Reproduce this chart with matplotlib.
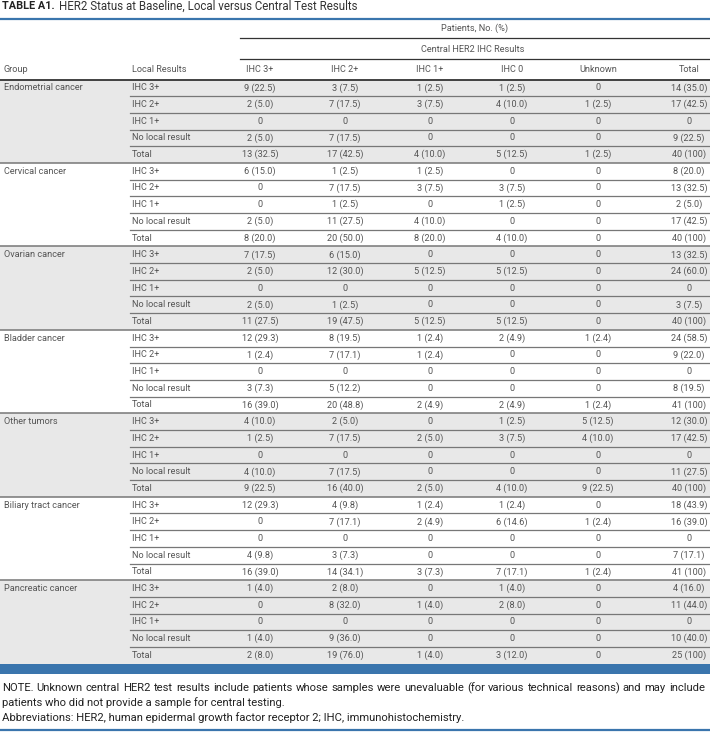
import matplotlib
matplotlib.use("Agg")
import matplotlib.pyplot as plt

plt.rcParams['font.family'] = ['Roboto', 'DejaVu Sans']

groups = ["Endometrial cancer", "Cervical cancer", "Ovarian cancer", "Bladder cancer",
          "Other tumors", "Biliary tract cancer", "Pancreatic cancer"]
local_results = ["IHC 3+", "IHC 2+", "IHC 1+", "No local result", "Total"]
central_cols = ["IHC 3+", "IHC 2+", "IHC 1+", "IHC 0", "Unknown", "Total"]

endometrial = [["9 (22.5)", "3 (7.5)", "1 (2.5)", "1 (2.5)", "0", "14 (35.0)"],
               ["2 (5.0)", "7 (17.5)", "3 (7.5)", "4 (10.0)", "1 (2.5)", "17 (42.5)"],
               ["0", "0", "0", "0", "0", "0"],
               ["2 (5.0)", "7 (17.5)", "0", "0", "0", "9 (22.5)"],
               ["13 (32.5)", "17 (42.5)", "4 (10.0)", "5 (12.5)", "1 (2.5)", "40 (100)"]]
cervical = [["6 (15.0)", "1 (2.5)", "1 (2.5)", "0", "0", "8 (20.0)"],
            ["0", "7 (17.5)", "3 (7.5)", "3 (7.5)", "0", "13 (32.5)"],
            ["0", "1 (2.5)", "0", "1 (2.5)", "0", "2 (5.0)"],
            ["2 (5.0)", "11 (27.5)", "4 (10.0)", "0", "0", "17 (42.5)"],
            ["8 (20.0)", "20 (50.0)", "8 (20.0)", "4 (10.0)", "0", "40 (100)"]]
ovarian = [["7 (17.5)", "6 (15.0)", "0", "0", "0", "13 (32.5)"],
           ["2 (5.0)", "12 (30.0)", "5 (12.5)", "5 (12.5)", "0", "24 (60.0)"],
           ["0", "0", "0", "0", "0", "0"],
           ["2 (5.0)", "1 (2.5)", "0", "0", "0", "3 (7.5)"],
           ["11 (27.5)", "19 (47.5)", "5 (12.5)", "5 (12.5)", "0", "40 (100)"]]
bladder = [["12 (29.3)", "8 (19.5)", "1 (2.4)", "2 (4.9)", "1 (2.4)", "24 (58.5)"],
           ["1 (2.4)", "7 (17.1)", "1 (2.4)", "0", "0", "9 (22.0)"],
           ["0", "0", "0", "0", "0", "0"],
           ["3 (7.3)", "5 (12.2)", "0", "0", "0", "8 (19.5)"],
           ["16 (39.0)", "20 (48.8)", "2 (4.9)", "2 (4.9)", "1 (2.4)", "41 (100)"]]
other = [["4 (10.0)", "2 (5.0)", "0", "1 (2.5)", "5 (12.5)", "12 (30.0)"],
         ["1 (2.5)", "7 (17.5)", "2 (5.0)", "3 (7.5)", "4 (10.0)", "17 (42.5)"],
         ["0", "0", "0", "0", "0", "0"],
         ["4 (10.0)", "7 (17.5)", "0", "0", "0", "11 (27.5)"],
         ["9 (22.5)", "16 (40.0)", "2 (5.0)", "4 (10.0)", "9 (22.5)", "40 (100)"]]
biliary = [["12 (29.3)", "4 (9.8)", "1 (2.4)", "1 (2.4)", "0", "18 (43.9)"],
           ["0", "7 (17.1)", "2 (4.9)", "6 (14.6)", "1 (2.4)", "16 (39.0)"],
           ["0", "0", "0", "0", "0", "0"],
           ["4 (9.8)", "3 (7.3)", "0", "0", "0", "7 (17.1)"],
           ["16 (39.0)", "14 (34.1)", "3 (7.3)", "7 (17.1)", "1 (2.4)", "41 (100)"]]
pancreatic = [["1 (4.0)", "2 (8.0)", "0", "1 (4.0)", "0", "4 (16.0)"],
              ["0", "8 (32.0)", "1 (4.0)", "2 (8.0)", "0", "11 (44.0)"],
              ["0", "0", "0", "0", "0", "0"],
              ["1 (4.0)", "9 (36.0)", "0", "0", "0", "10 (40.0)"],
              ["2 (8.0)", "19 (76.0)", "1 (4.0)", "3 (12.0)", "0", "25 (100)"]]
group_data = [endometrial, cervical, ovarian, bladder, other, biliary, pancreatic]

# layout in pixels
W, H = 710, 732
blue = "#3a75ad"
grey_fill = "#e8e8e8"
txt = "#555555"
col_x = [260, 345, 430, 512, 598, 689]
top = 79.5
row_h = 16.69
fs = 6.6
fw = 'normal'

fig = plt.figure(figsize=(W / 100, H / 100), dpi=100)
ax = fig.add_axes([0, 0, 1, 1])
ax.set_xlim(0, W)
ax.set_ylim(H, 0)
ax.axis('off')
fig.canvas.draw()
renderer = fig.canvas.get_renderer()

# title
t1 = ax.text(2, 6, "TABLE A1.", fontsize=7.8, fontweight='bold', color="#222222", va='center', ha='left')
t1_end = 2 + t1.get_window_extent(renderer).width
ax.text(t1_end + 4, 6, "HER2 Status at Baseline, Local versus Central Test Results", fontsize=8.3,
        color="#333333", va='center', ha='left')
ax.plot([0, W], [19, 19], color=blue, lw=1.6, solid_capstyle='butt')

# header
ax.text(475, 28, "Patients, No. (%)", fontsize=fs, fontweight=fw, color=txt, ha='center', va='center')
ax.plot([240, W], [37.5, 37.5], color="#333333", lw=0.9)
ax.text(473, 49, "Central HER2 IHC Results", fontsize=fs, fontweight=fw, color=txt, ha='center', va='center')
ax.plot([240, W], [58.5, 58.5], color="#333333", lw=0.9)
ax.text(4, 70, "Group", fontsize=fs, fontweight=fw, color=txt, ha='left', va='center')
ax.text(132, 70, "Local Results", fontsize=fs, fontweight=fw, color=txt, ha='left', va='center')
for x, c in zip(col_x, central_cols):
    ax.text(x, 70, c, fontsize=fs, fontweight=fw, color=txt, ha='center', va='center')

# body
for g, (name, rows) in enumerate(zip(groups, group_data)):
    y0 = top + g * 5 * row_h
    if g % 2 == 0:
        ax.add_patch(plt.Rectangle((0, y0), W, 5 * row_h, color=grey_fill, lw=0, zorder=0))
    ax.text(4, y0 + row_h / 2, name, fontsize=fs, fontweight=fw, color=txt, ha='left', va='center')
    for r, (lab, vals) in enumerate(zip(local_results, rows)):
        yc = y0 + r * row_h + row_h / 2
        ax.text(132, yc, lab, fontsize=fs, fontweight=fw, color=txt, ha='left', va='center')
        for x, v in zip(col_x, vals):
            ax.text(x, yc, v, fontsize=fs, fontweight=fw, color=txt, ha='center', va='center')
        if r < 4:
            ax.plot([130, W], [yc + row_h / 2] * 2, color="#777777", lw=0.9)
    if g > 0:
        ax.plot([0, W], [y0, y0], color="#777777", lw=1.1)

ax.plot([0, W], [top, top], color="#333333", lw=1.3)

# blue band under table
band_top = top + 35 * row_h
ax.add_patch(plt.Rectangle((0, band_top), W, 10, color=blue, lw=0))

# notes; first line is justified to the full width like the journal layout
nfs = 8.1
ncol = "#222222"
note1 = ("NOTE. Unknown central HER2 test results include patients whose samples were unevaluable "
         "(for various technical reasons) and may include")
words = note1.split()
arts = [ax.text(0, 688, w, fontsize=nfs, color=ncol, ha='left', va='center') for w in words]
widths = [a.get_window_extent(renderer).width for a in arts]
gap = (705 - 2 - sum(widths)) / (len(words) - 1)
x = 2
for a, w in zip(arts, widths):
    a.set_x(x)
    x += w + gap
ax.text(2, 703, "patients who did not provide a sample for central testing.", fontsize=nfs,
        color=ncol, ha='left', va='center')
ax.text(2, 718, "Abbreviations: HER2, human epidermal growth factor receptor 2; IHC, immunohistochemistry.",
        fontsize=nfs, color=ncol, ha='left', va='center')
ax.plot([0, W], [730, 730], color=blue, lw=1.6, solid_capstyle='butt')

fig.savefig("out.png", dpi=100)
